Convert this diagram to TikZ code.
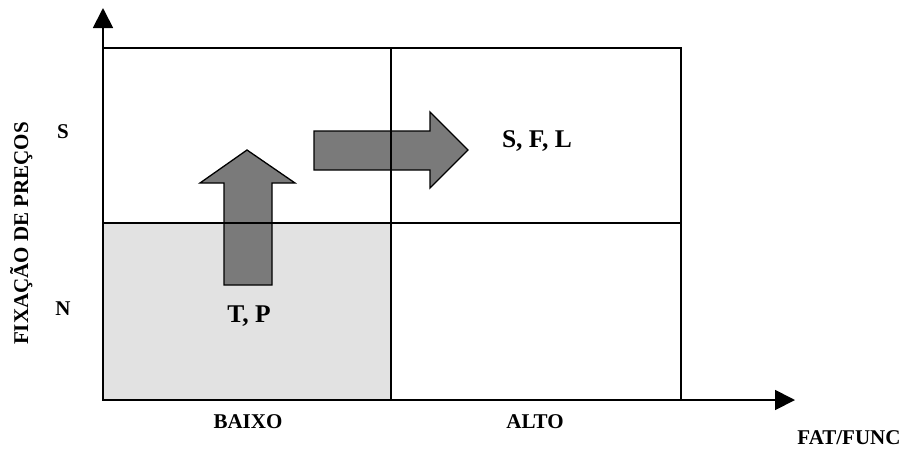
\documentclass[tikz,border=0pt]{standalone}
\usepackage{fontspec}
\setmainfont{Liberation Serif}
\usetikzlibrary{arrows.meta}
\definecolor{arrowgray}{HTML}{7A7A7A}
\definecolor{shadegray}{HTML}{E2E2E2}
\tikzset{
  lbl/.style={font=\fontsize{21}{25}\selectfont\bfseries, inner sep=0pt, anchor=base},
  biglbl/.style={font=\fontsize{25.5}{30}\selectfont\bfseries, inner sep=0pt, anchor=base},
  grid line/.style={line width=1.5pt, black},
  axis/.style={line width=1.8pt, -{Triangle[length=20pt,width=20pt]}},
  block arrow/.style={fill=arrowgray, draw=black, line width=1.3pt, line join=miter},
}
\begin{document}
\begin{tikzpicture}[x=1pt,y=-1pt]
\useasboundingbox (0,0) rectangle (907,448);
% shaded quadrant
\fill[shadegray] (103,223) rectangle (391,400);
% block arrows
\draw[block arrow] (224,285) -- (224,183) -- (200,183) -- (247,150) -- (295,183) -- (272,183) -- (272,285) -- cycle;
\draw[block arrow] (314,131) -- (430,131) -- (430,112) -- (468,150) -- (430,188) -- (430,170) -- (314,170) -- cycle;
% grid
\draw[grid line] (103,48) rectangle (681,400);
\draw[grid line] (103,223) -- (681,223);
\draw[grid line] (391,48) -- (391,400);
% axes
\coordinate (o) at (103,400);
\coordinate (ytip) at (103,8);
\coordinate (xtip) at (795,400);
\draw[axis] (o) -- (ytip);
\draw[axis] (o) -- (xtip);
% labels
\node[lbl] (s) at (63,138) {S};
\node[lbl] (n) at (63,315) {N};
\node[lbl, rotate=90] (ylab) at (28,233.5) {FIXAÇÃO DE PREÇOS};
\node[biglbl] (tp) at (249,322) {T, P};
\node[biglbl] (sfl) at (537,147) {S, F, L};
\node[lbl] (baixo) at (248,428) {BAIXO};
\node[lbl] (alto) at (535,428) {ALTO};
\node[lbl] (fat) at (849,444) {FAT/FUNC};
\end{tikzpicture}
\end{document}
